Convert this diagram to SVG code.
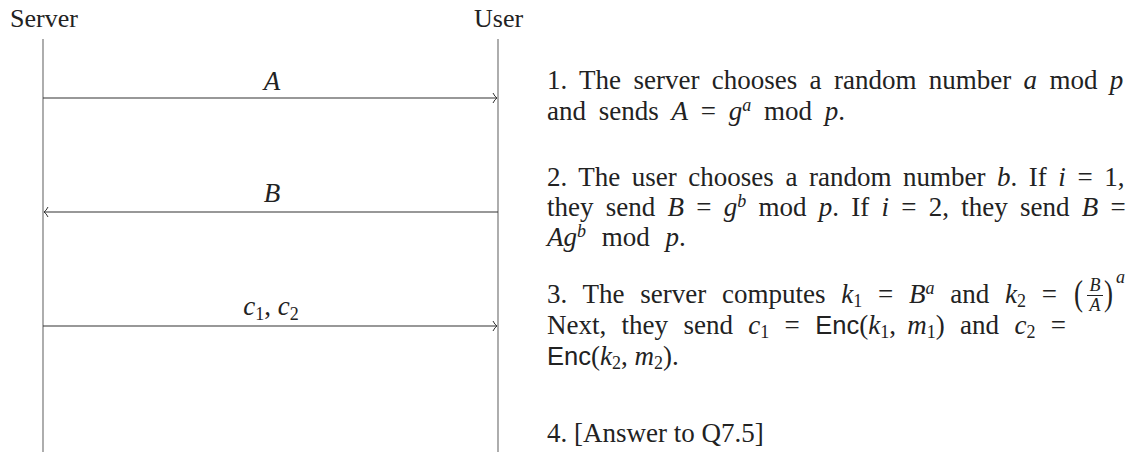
<svg xmlns="http://www.w3.org/2000/svg" width="1136" height="452" viewBox="0 0 1136 452">
<style>
.t{font-family:"Liberation Serif",serif;font-size:27px;fill:#222}
.h{font-family:"Liberation Serif",serif;font-size:26px;fill:#222}
.m{font-style:italic}
.s{font-family:"Liberation Sans",sans-serif;font-size:25.5px}
.sub{font-size:18px}
.fr{font-family:"Liberation Serif",serif;font-size:18px;font-style:italic;fill:#222}
.life{stroke:#777;stroke-width:1.2;fill:none}
.msg{stroke:#333;stroke-width:1.2;fill:none}
</style>
<defs>
<marker id="arr" viewBox="-6 -6 8 12" markerWidth="8" markerHeight="12" refX="0" refY="0" orient="auto" markerUnits="userSpaceOnUse">
<path d="M-4,-5 Q-2,-1 0,0 Q-2,1 -4,5" fill="none" stroke="#333" stroke-width="1"/>
</marker>
</defs>
<rect width="1136" height="452" fill="#fff"/>
<g id="server">
<text class="h" x="10" y="27">Server</text>
<line class="life" x1="43" y1="39" x2="43" y2="452"/>
</g>
<g id="user">
<text class="h" x="474" y="27">User</text>
<line class="life" x1="498" y1="39" x2="498" y2="452"/>
</g>
<g id="connectors">
<line class="msg" x1="43" y1="98" x2="497" y2="98" marker-end="url(#arr)"/>
<text class="t m" x="272" y="90" text-anchor="middle">A</text>
<line class="msg" x1="498" y1="212" x2="44" y2="212" marker-end="url(#arr)"/>
<text class="t m" x="272" y="202" text-anchor="middle">B</text>
<line class="msg" x1="43" y1="326" x2="497" y2="326" marker-end="url(#arr)"/>
<text class="t" x="271" y="315" text-anchor="middle"><tspan class="m">c</tspan><tspan class="sub" baseline-shift="-5">1</tspan>, <tspan class="m">c</tspan><tspan class="sub" baseline-shift="-5">2</tspan></text>
</g>
<g id="notes">
<text class="t" x="547" y="89" word-spacing="5.6">1. The server chooses a random number <tspan class="m">a</tspan> mod <tspan class="m">p</tspan></text>
<text class="t" x="547" y="120" word-spacing="6">and sends <tspan class="m">A</tspan> = <tspan class="m">g</tspan><tspan class="sub m" baseline-shift="9">a</tspan> mod <tspan class="m">p</tspan>.</text>
<text class="t" x="547" y="186" word-spacing="4.8">2. The user chooses a random number <tspan class="m">b</tspan>. If <tspan class="m">i</tspan> = 1,</text>
<text class="t" x="547" y="216" word-spacing="5.5">they send <tspan class="m">B</tspan> = <tspan class="m">g</tspan><tspan class="sub m" baseline-shift="9">b</tspan> mod <tspan class="m">p</tspan>. If <tspan class="m">i</tspan> = 2, they send <tspan class="m">B</tspan> =</text>
<text class="t" x="547" y="246" word-spacing="9"><tspan class="m">Ag</tspan><tspan class="sub m" baseline-shift="9">b</tspan> mod <tspan class="m">p</tspan>.</text>
<text class="t" x="547" y="303" word-spacing="9">3. The server computes <tspan class="m">k</tspan><tspan class="sub" baseline-shift="-4">1</tspan> = <tspan class="m">B</tspan><tspan class="sub m" baseline-shift="9">a</tspan> and <tspan class="m">k</tspan><tspan class="sub" baseline-shift="-4">2</tspan> =</text>
<text class="t" transform="translate(1074,305) scale(1,1.35)" x="0" y="0">(</text>
<text class="fr" x="1095" y="291" text-anchor="middle" font-size="19">B</text>
<line x1="1087" y1="295.5" x2="1103" y2="295.5" stroke="#222" stroke-width="1"/>
<text class="fr" x="1095" y="311" text-anchor="middle" font-size="19">A</text>
<text class="t" transform="translate(1104,305) scale(1,1.35)" x="0" y="0">)</text>
<text class="fr" x="1116" y="283">a</text>
<text class="t" x="547" y="334" word-spacing="8.6">Next, they send <tspan class="m">c</tspan><tspan class="sub" baseline-shift="-4">1</tspan> = <tspan class="s">Enc</tspan>(<tspan class="m">k</tspan><tspan class="sub" baseline-shift="-4">1</tspan>,<tspan dx="-4"> </tspan><tspan class="m">m</tspan><tspan class="sub" baseline-shift="-4">1</tspan>) and <tspan class="m">c</tspan><tspan class="sub" baseline-shift="-4">2</tspan> =</text>
<text class="t" x="547" y="365"><tspan class="s">Enc</tspan>(<tspan class="m">k</tspan><tspan class="sub" baseline-shift="-4">2</tspan>, <tspan class="m">m</tspan><tspan class="sub" baseline-shift="-4">2</tspan>).</text>
<text class="t" x="547" y="442">4. [Answer to Q7.5]</text>
</g>
</svg>
